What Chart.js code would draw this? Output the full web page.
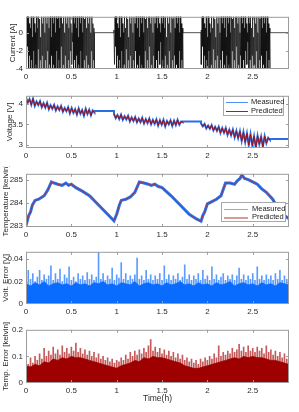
<!DOCTYPE html>
<html><head><meta charset="utf-8">
<script src="https://cdn.jsdelivr.net/npm/chart.js@4"></script>
<style>
body{margin:0;width:299px;height:412px;background:#fff;position:relative;overflow:hidden;font-family:"Liberation Sans",Arial,sans-serif}
.box{position:absolute;left:0;width:299px}
.leg{position:absolute;background:#fff;border:1px solid #a8a8a8;box-sizing:border-box}
.ln{position:absolute;height:1px}
.tx{position:absolute;font-size:7.5px;line-height:8px;color:#222;white-space:nowrap}
</style>
</head><body>
<div class="box" style="top:9px;height:80px"><canvas id="c1"></canvas></div>
<div class="box" style="top:88px;height:80px"><canvas id="c2"></canvas></div>
<div class="box" style="top:166px;height:81px"><canvas id="c3"></canvas></div>
<div class="box" style="top:244px;height:80px"><canvas id="c4"></canvas></div>
<div class="box" style="top:322px;height:90px"><canvas id="c5"></canvas></div>

<div class="leg" style="left:223px;top:96px;width:61px;height:20px">
  <div class="ln" style="left:2px;top:5px;width:22px;background:#4f8ff7"></div>
  <div class="tx" style="left:27px;top:1px">Measured</div>
  <div class="ln" style="left:2px;top:14px;width:22px;background:#b31b1b"></div>
  <div class="tx" style="left:27px;top:10px">Predicted</div>
</div>
<div class="leg" style="left:221px;top:202px;width:65px;height:20px">
  <div class="ln" style="left:2px;top:6px;width:24px;background:#7eaaff"></div>
  <div class="tx" style="left:30px;top:2px">Measured</div>
  <div class="ln" style="left:2px;top:14px;width:24px;height:1.5px;background:#d99a9a"></div>
  <div class="tx" style="left:30px;top:10px">Predicted</div>
</div>

<script>
// ---------------- data ----------------
const xTicks = [0, 0.5, 1, 1.5, 2, 2.5];
const xMax = 2.9;

const currentTicks = [-4, -2, 0];
const voltageTicks = [3, 3.5, 4];
const tempTicks = [283, 284, 285];
const voltErrTicks = [0, 0.02, 0.04];
const tempErrTicks = [0, 0.1, 0.2];

// drive cycle periods (h)
const cycleStarts = [0, 0.97, 1.93];
const cycleEnds = [0.755, 1.73, 2.69];

// current during one drive cycle [A]
const currentCycle = [0.3,-3.5,2,-1.5,2,-4.5,1,-2.5,0.5,-4,2,-3,-0.5,-4.5,2,-2,1,-4.5,0,-3.5,2,-4,0.5,-1.8,2,-4.5,1.5,-3,-0.5,-4.5,2,-2.5,1,-4.5,2,-4,0,-3,2,-4.5,1,-2,2,-4.5,0.5,-3.5,2,-4.5,-0.5,-2.5,2,-4.5,1,-3.5,2,-4,0,-4.5,2,-2,1.5,-4.5,2,-3,0.5,-4.5,2,-1.5,2,-4.5,1,-3.5,2,-4.5,0,-2.5,2,-4,1,-4.5,2,-3,0.5,-4.5,2,-2,1,-3.5,0,-1,2,-4.5,1,-3,2,-4,0.5,-2.5,2,-4.5,-0.5,-3.5,2,-4.5,1,-2,2,-4,0,-4.5,2,-3,1.5,-4.5,2,-2.5,0.5,-4.5,2,-3.5,1,-4,2,-4.5,0,-2,2,-4.5,1,-3,0.5,-4];
const currentRest = 0;

// voltage during each drive cycle [V]
const voltSeg1 = [4.17,4.03,4.12,3.98,4.13,3.95,4.06,3.97,4.07,3.92,4.02,3.91,4.03,3.87,3.97,3.88,3.98,3.84,3.94,3.85,3.95,3.81,3.9,3.82,3.92,3.77,3.9,3.78,3.87,3.74,3.89,3.76,3.85,3.71,3.88,3.75,3.86,3.72,3.84,3.79];
const voltSeg2 = [3.76,3.65,3.73,3.63,3.74,3.61,3.7,3.62,3.71,3.57,3.67,3.58,3.68,3.55,3.64,3.55,3.66,3.52,3.63,3.53,3.64,3.5,3.61,3.51,3.62,3.47,3.6,3.49,3.61,3.45,3.58,3.5,3.6,3.46,3.59,3.48,3.61,3.49,3.57,3.55];
const voltSeg3 = [3.52,3.45,3.51,3.4,3.47,3.39,3.48,3.35,3.44,3.34,3.44,3.29,3.41,3.29,3.41,3.24,3.37,3.23,3.37,3.18,3.34,3.16,3.33,3.09,3.31,3.06,3.28,2.99,3.26,2.98,3.21,2.93,3.22,3.01,3.2,2.95,3.21,3.04,3.17,3.12];
const voltRest = [3.83, 3.57, 3.14];

// temperature [kelvin]
const tempTime = [0,0.03,0.05,0.07,0.1,0.14,0.2,0.24,0.28,0.31,0.35,0.4,0.44,0.47,0.5,0.55,0.62,0.7,0.8,0.9,0.97,1.0,1.03,1.05,1.1,1.15,1.2,1.25,1.3,1.35,1.38,1.42,1.46,1.5,1.6,1.7,1.8,1.88,1.93,1.95,1.97,2.0,2.05,2.1,2.15,2.2,2.25,2.3,2.33,2.36,2.38,2.41,2.45,2.5,2.55,2.6,2.65,2.72,2.8,2.9];
const tempMeasured = [283.0,283.45,283.6,283.9,284.1,284.15,284.3,284.55,284.9,284.85,284.8,284.75,284.85,284.75,284.8,284.65,284.5,284.3,283.9,283.5,283.22,283.5,283.9,284.1,284.15,284.25,284.45,284.9,284.85,284.8,284.75,284.8,284.7,284.65,284.3,283.9,283.5,283.3,283.2,283.45,283.6,283.95,284.05,284.15,284.3,284.85,284.85,284.8,284.95,285.05,285.2,285.05,285.0,284.9,284.8,284.6,284.45,284.15,283.6,283.3];

// errors: spike peaks every 0.025 h, dense band level every 0.05 h
const peakStep = 0.025;
const bandStep = 0.05;
const voltErrPeaks = [.026,.03,.022,.027,.02,.024,.03,.021,.026,.022,.025,.034,.021,.027,.022,.031,.02,.026,.023,.033,.021,.024,.02,.027,.022,.025,.021,.028,.022,.026,.021,.024,.046,.022,.027,.021,.025,.022,.032,.021,.026,.023,.037,.022,.027,.021,.025,.022,.026,.041,.022,.025,.021,.03,.022,.026,.021,.025,.022,.027,.021,.034,.022,.026,.021,.025,.022,.027,.021,.024,.035,.022,.026,.021,.025,.022,.027,.021,.03,.022,.025,.021,.033,.022,.026,.021,.024,.027,.021,.025,.022,.026,.021,.025,.032,.022,.026,.021,.025,.022,.027,.021,.033,.022,.025,.021,.026,.022,.025,.021,.027,.022,.03,.021,.025,.022,.026];
const voltErrBand = [.018,.016,.019,.017,.02,.016,.018,.019,.017,.018,.016,.019,.017,.018,.016,.019,.018,.02,.017,.018,.016,.019,.018,.017,.02,.016,.018,.019,.017,.018,.016,.019,.017,.018,.02,.017,.018,.016,.019,.017,.018,.016,.019,.017,.018,.02,.016,.018,.019,.017,.018,.016,.019,.017,.018,.016,.019,.018,.017];
const tempErrPeaks = [.08,.07,.095,.075,.1,.085,.11,.09,.13,.1,.12,.105,.135,.11,.125,.105,.14,.115,.13,.11,.135,.12,.15,.115,.13,.11,.125,.105,.12,.1,.115,.095,.11,.09,.1,.085,.095,.08,.09,.075,.085,.08,.095,.085,.105,.09,.115,.1,.12,.105,.125,.11,.13,.115,.14,.163,.12,.135,.115,.13,.11,.125,.105,.12,.1,.115,.095,.11,.09,.105,.085,.095,.08,.09,.075,.085,.07,.09,.08,.095,.085,.1,.09,.11,.095,.14,.1,.115,.105,.12,.11,.13,.115,.125,.145,.12,.135,.115,.14,.12,.13,.115,.135,.12,.13,.11,.14,.115,.125,.105,.12,.1,.115,.095,.11,.09,.105];
const tempErrBand = [.065,.06,.07,.065,.08,.075,.09,.085,.095,.09,.1,.095,.095,.09,.085,.08,.075,.07,.065,.06,.055,.065,.07,.075,.085,.08,.095,.09,.1,.095,.095,.09,.085,.08,.075,.065,.06,.055,.055,.06,.065,.07,.075,.08,.085,.09,.095,.09,.1,.095,.1,.095,.095,.09,.085,.085,.08,.075,.07];

// ---------------- build series ----------------
const currentPts = [];
cycleStarts.forEach((s, k) => {
  const e = cycleEnds[k], n = currentCycle.length;
  currentCycle.forEach((v, i) => currentPts.push({x: s + i * (e - s) / (n - 1), y: v}));
  currentPts.push({x: e, y: currentRest});
  currentPts.push({x: k < cycleStarts.length - 1 ? cycleStarts[k + 1] : xMax, y: currentRest});
});

const voltSegs = [voltSeg1, voltSeg2, voltSeg3];
const voltMeasPts = [], voltPredPts = [];
voltSegs.forEach((seg, k) => {
  const s = cycleStarts[k], e = cycleEnds[k], n = seg.length;
  seg.forEach((v, i) => {
    const p = {x: s + i * (e - s) / (n - 1), y: v};
    voltMeasPts.push(p); voltPredPts.push(p);
  });
  const next = k < voltSegs.length - 1 ? cycleStarts[k + 1] : xMax;
  voltMeasPts.push({x: e, y: voltRest[k]}, {x: next, y: voltRest[k]});
  voltPredPts.push({x: (e + next) / 2, y: null});
});

const tempPts = tempTime.map((t, i) => ({x: t, y: tempMeasured[i]}));
const stepPts = (arr, step) => arr.map((v, i) => ({x: i * step, y: v}));

// ---------------- chart helpers ----------------
const TXT = '#2b2b2b';
const boxPlugin = {
  id: 'mbox',
  afterDraw(c) {
    const a = c.chartArea, ctx = c.ctx, xs = c.scales.x, ys = c.scales.y;
    ctx.save();
    ctx.strokeStyle = '#9c9c9c'; ctx.lineWidth = 1;
    ctx.strokeRect(a.left + 0.5, a.top + 0.5, a.right - a.left - 1, a.bottom - a.top - 1);
    ctx.beginPath();
    xs.ticks.forEach(t => {
      const p = Math.round(xs.getPixelForValue(t.value)) + 0.5;
      if (p < a.left + 2 || p > a.right - 2) return;
      ctx.moveTo(p, a.bottom); ctx.lineTo(p, a.bottom - 3);
      ctx.moveTo(p, a.top); ctx.lineTo(p, a.top + 3);
    });
    ys.ticks.forEach(t => {
      const p = Math.round(ys.getPixelForValue(t.value)) + 0.5;
      if (p < a.top + 2 || p > a.bottom - 2) return;
      ctx.moveTo(a.left, p); ctx.lineTo(a.left + 3, p);
      ctx.moveTo(a.right, p); ctx.lineTo(a.right - 3, p);
    });
    ctx.stroke();
    ctx.restore();
  }
};

function makeChart(id, datasets, yMin, yMax, yTicks, yTitle, yTitlePad, xHeight, xTitle) {
  new Chart(document.getElementById(id), {
    type: 'line',
    data: {datasets},
    options: {
      responsive: true, maintainAspectRatio: false, animation: false, devicePixelRatio: 1,
      layout: {padding: {left: 0, right: 10, top: 4, bottom: 0}},
      plugins: {legend: {display: false}, tooltip: {enabled: false}},
      elements: {point: {radius: 0}, line: {tension: 0}},
      scales: {
        x: {
          type: 'linear', min: 0, max: xMax, offset: false,
          grid: {display: false, drawTicks: false}, border: {display: false},
          afterBuildTicks: s => { s.ticks = xTicks.map(v => ({value: v})); },
          afterFit: s => { s.height = xHeight; },
          ticks: {padding: 3, maxRotation: 0, autoSkip: false, color: TXT, font: {size: 8, family: '"Liberation Sans", Arial'}, callback: v => String(v)},
          title: xTitle ? {display: true, text: xTitle, color: TXT, font: {size: 8.5, family: '"Liberation Sans", Arial'}, padding: {top: 0, bottom: 8}} : {display: false}
        },
        y: {
          type: 'linear', min: yMin, max: yMax,
          grid: {display: false, drawTicks: false}, border: {display: false},
          afterBuildTicks: s => { s.ticks = yTicks.map(v => ({value: v})); },
          afterFit: s => { s.width = 26; },
          ticks: {padding: 3, color: TXT, font: {size: 8, family: '"Liberation Sans", Arial'}, callback: v => String(v)},
          title: {display: true, text: yTitle, color: TXT, font: {size: 8, family: '"Liberation Sans", Arial'}, padding: {top: yTitlePad, bottom: 0}}
        }
      }
    },
    plugins: [boxPlugin]
  });
}

makeChart('c1', [
  {data: currentPts, borderColor: 'rgba(15,15,15,0.9)', borderWidth: 0.8, clip: 0}
], -4, 1.75, currentTicks, 'Current [A]', 8, 20);

makeChart('c2', [
  {data: voltPredPts, borderColor: '#a50d0d', borderWidth: 1, spanGaps: false, clip: 0},
  {data: voltMeasPts, borderColor: '#2a6fe8', borderWidth: 2, clip: 0}
], 2.92, 4.2, voltageTicks, 'Voltage [V]', 5, 20);

makeChart('c3', [
  {data: tempPts, borderColor: '#b3262a', borderWidth: 0.8, clip: 0},
  {data: tempPts, borderColor: '#2a74f0', borderWidth: 3, clip: 0}
], 282.95, 285.25, tempTicks, 'Temperature [kelvin]', 1, 20);

makeChart('c4', [
  {data: stepPts(voltErrBand, bandStep), borderColor: '#0a6cff', borderWidth: 0.8, backgroundColor: '#0a6cff', fill: 'origin', clip: 0},
  {type: 'bar', data: stepPts(voltErrPeaks, peakStep), backgroundColor: '#5d9cff', barThickness: 1, clip: 0}
], 0, 0.0465, voltErrTicks, 'Volt. Error [V]', 1, 20);

makeChart('c5', [
  {data: stepPts(tempErrBand, bandStep), borderColor: '#9e0000', borderWidth: 0.8, backgroundColor: '#9e0000', fill: 'origin', clip: 0},
  {type: 'bar', data: stepPts(tempErrPeaks, peakStep), backgroundColor: '#c55a5a', barThickness: 1, clip: 0}
], 0, 0.2, tempErrTicks, 'Temp. Error [kelvin]', 1, 29, 'Time(h)');
</script>
</body></html>
